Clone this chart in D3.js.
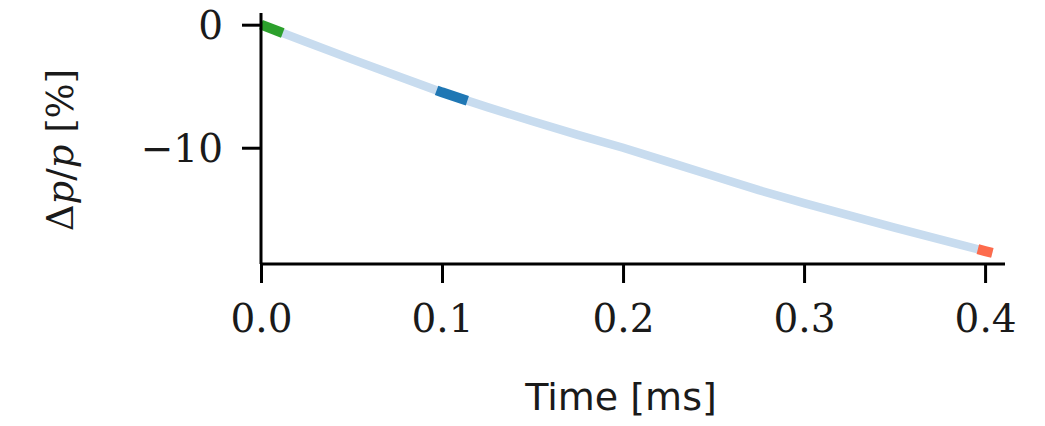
<!DOCTYPE html>
<html>
<head>
<meta charset="utf-8">
<script src="https://cdn.jsdelivr.net/npm/d3@7"></script>
<style>
  html, body { margin: 0; padding: 0; background: #fff; }
  svg { display: block; }
  .tick text { font-family: "DejaVu Serif", "Liberation Serif", serif; }
</style>
</head>
<body>
<svg id="chart" width="1045" height="426"></svg>
<script>
// Relative pressure change over time
const timeMs   = [0.000, 0.025, 0.050, 0.075, 0.100, 0.125, 0.150, 0.175, 0.200, 0.225, 0.250, 0.275, 0.300, 0.325, 0.350, 0.375, 0.400, 0.404];
const deltaP   = [0.00, -1.40, -2.80, -4.15, -5.50, -6.70, -7.85, -8.95, -10.00, -11.15, -12.30, -13.45, -14.50, -15.50, -16.50, -17.45, -18.40, -18.55];

// Highlighted time windows [start, end] and their colours
const windowStart  = [0.000, 0.097, 0.396];
const windowEnd    = [0.012, 0.114, 0.404];
const windowColors = ["#2ca02c", "#1f77b4", "#fd6b4c"];

const xTicks = [0.0, 0.1, 0.2, 0.3, 0.4];
const yTicks = [0, -10];

const svg = d3.select("#chart");
const margin = { left: 261, right: 40, top: 13, bottom: 162 };
const W = 1045, H = 426;

const x = d3.scaleLinear().domain([0, 0.411]).range([margin.left, W - margin.right]);
const y = d3.scaleLinear().domain([-19.45, 0.95]).range([H - margin.bottom, margin.top]);

const line = d3.line().x(d => x(d[0])).y(d => y(d[1]));
const pts = timeMs.map((t, i) => [t, deltaP[i]]);

// value of the curve at an arbitrary time
function at(t) {
  const i = Math.max(1, Math.min(timeMs.length - 1, d3.bisectLeft(timeMs, t)));
  const t0 = timeMs[i - 1], t1 = timeMs[i];
  const f = (t - t0) / (t1 - t0);
  return deltaP[i - 1] + f * (deltaP[i] - deltaP[i - 1]);
}

// full trace, pale
svg.append("path")
  .datum(pts)
  .attr("d", line)
  .attr("fill", "none")
  .attr("stroke", "#c8dcef")
  .attr("stroke-width", 8.5);

// highlighted windows
windowStart.forEach((s, k) => {
  const e = windowEnd[k];
  const seg = [[s, at(s)]]
    .concat(pts.filter(p => p[0] > s && p[0] < e))
    .concat([[e, at(e)]]);
  svg.append("path")
    .datum(seg)
    .attr("d", line)
    .attr("fill", "none")
    .attr("stroke", windowColors[k])
    .attr("stroke-width", 10);
});

// axes
const xAxis = d3.axisBottom(x).tickValues(xTicks).tickFormat(d3.format(".1f")).tickSize(19).tickPadding(21);
const yAxis = d3.axisLeft(y).tickValues(yTicks).tickFormat(d => d < 0 ? "\u2212" + Math.abs(d) : d).tickSize(19).tickPadding(19);

const gx = svg.append("g").attr("transform", `translate(0,${H - margin.bottom})`).call(xAxis);
const gy = svg.append("g").attr("transform", `translate(${margin.left},0)`).call(yAxis);

[gx, gy].forEach(g => {
  g.select(".domain").attr("stroke", "#000").attr("stroke-width", 3);
  g.selectAll(".tick line").attr("stroke", "#000").attr("stroke-width", 3);
  g.selectAll(".tick text").attr("fill", "#1a1a1a").attr("font-size", 39);
});
gx.select(".domain").attr("d", `M${x.range()[0]},0H${x.range()[1]}`);
gy.select(".domain").attr("d", `M0,${y.range()[1]}V${y.range()[0]}`);
gy.selectAll(".tick text").attr("dy", "0.36em");
gx.selectAll(".tick text").attr("dy", "0.73em");

// axis titles
svg.append("text")
  .attr("x", 621)
  .attr("y", 410)
  .attr("text-anchor", "middle")
  .attr("font-family", "DejaVu Sans, sans-serif")
  .attr("font-size", 38)
  .attr("fill", "#1a1a1a")
  .text("Time [ms]");

const yl = svg.append("text")
  .attr("transform", `translate(73,150) rotate(-90)`)
  .attr("text-anchor", "middle")
  .attr("font-family", "DejaVu Serif, serif")
  .attr("font-size", 37)
  .attr("fill", "#1a1a1a");
yl.append("tspan").text("\u0394");
yl.append("tspan").attr("font-style", "italic").text("p");
yl.append("tspan").text("/");
yl.append("tspan").attr("font-style", "italic").text("p");
yl.append("tspan").text(" [%]");
</script>
</body>
</html>
